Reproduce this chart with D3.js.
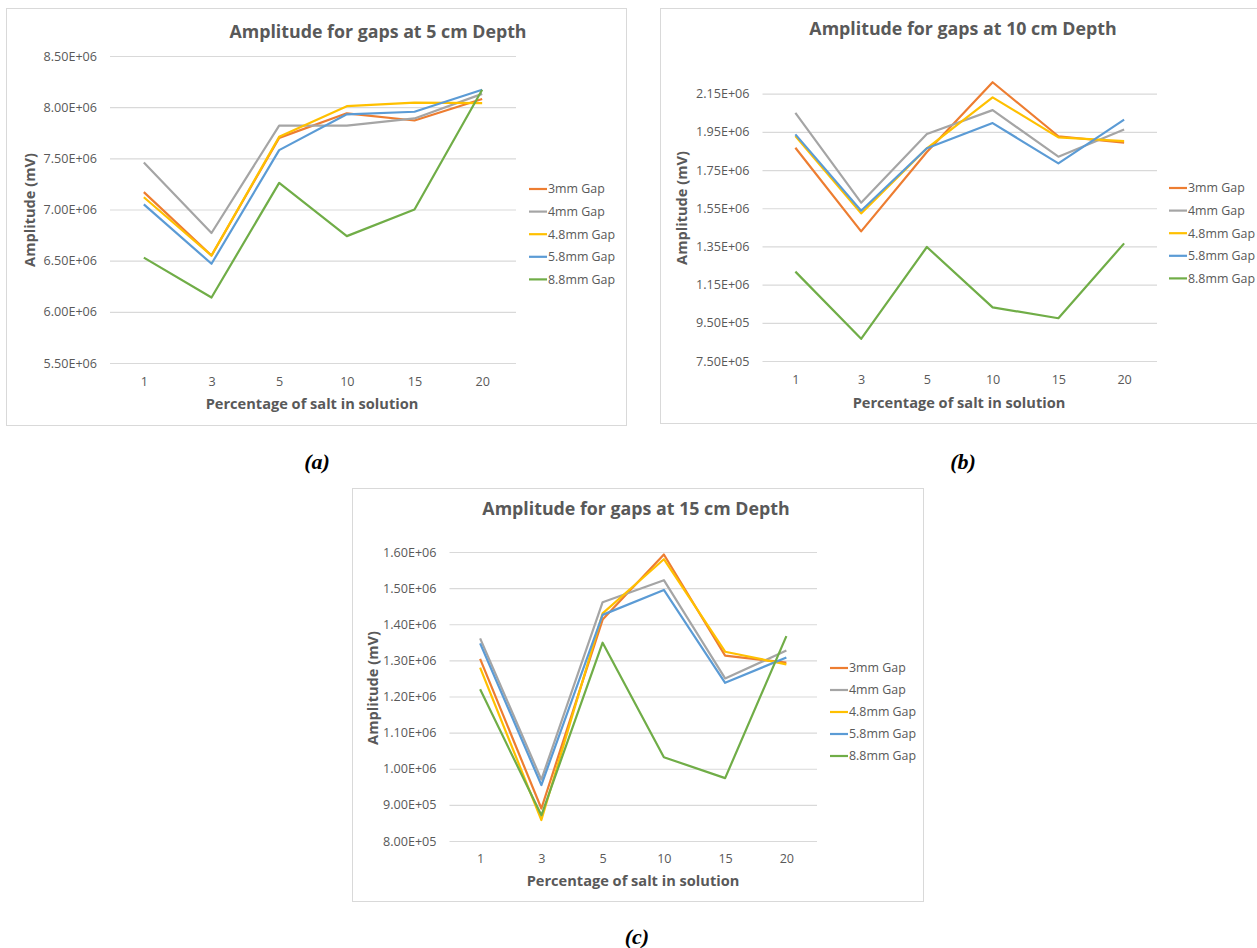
<!DOCTYPE html>
<html>
<head>
<meta charset="utf-8">
<script src="https://cdn.jsdelivr.net/npm/d3@7"></script>
<style>
  body { margin: 0; background: #fff; }
  svg { display: block; }
</style>
</head>
<body>
<script>
// categories and series
const categories = ["1", "3", "5", "10", "15", "20"];
const seriesNames = ["3mm Gap", "4mm Gap", "4.8mm Gap", "5.8mm Gap", "8.8mm Gap"];
const seriesColors = ["#ED7D31", "#A5A5A5", "#FFC000", "#5B9BD5", "#70AD47"];

// values, one row per gap
const depth5 = [
  [7.17e6, 6.55e6, 7.70e6, 7.94e6, 7.87e6, 8.08e6],
  [7.46e6, 6.77e6, 7.82e6, 7.82e6, 7.89e6, 8.13e6],
  [7.12e6, 6.55e6, 7.71e6, 8.01e6, 8.045e6, 8.04e6],
  [7.05e6, 6.47e6, 7.58e6, 7.93e6, 7.955e6, 8.17e6],
  [6.53e6, 6.14e6, 7.26e6, 6.74e6, 7.00e6, 8.17e6]
];
const depth10 = [
  [1.867e6, 1.429e6, 1.845e6, 2.21e6, 1.927e6, 1.893e6],
  [2.05e6, 1.579e6, 1.939e6, 2.064e6, 1.82e6, 1.963e6],
  [1.928e6, 1.523e6, 1.864e6, 2.131e6, 1.921e6, 1.902e6],
  [1.937e6, 1.537e6, 1.864e6, 1.996e6, 1.785e6, 2.014e6],
  [1.218e6, 0.866e6, 1.347e6, 1.031e6, 0.974e6, 1.366e6]
];
const depth15 = [
  [1.304e6, 0.890e6, 1.413e6, 1.593e6, 1.313e6, 1.294e6],
  [1.361e6, 0.970e6, 1.461e6, 1.522e6, 1.250e6, 1.327e6],
  [1.280e6, 0.858e6, 1.430e6, 1.580e6, 1.324e6, 1.289e6],
  [1.347e6, 0.955e6, 1.426e6, 1.495e6, 1.238e6, 1.308e6],
  [1.220e6, 0.871e6, 1.349e6, 1.032e6, 0.974e6, 1.367e6]
];

// y tick values
const ticks5 = [5.5e6, 6.0e6, 6.5e6, 7.0e6, 7.5e6, 8.0e6, 8.5e6];
const ticks10 = [7.5e5, 9.5e5, 1.15e6, 1.35e6, 1.55e6, 1.75e6, 1.95e6, 2.15e6];
const ticks15 = [8.0e5, 9.0e5, 1.0e6, 1.1e6, 1.2e6, 1.3e6, 1.4e6, 1.5e6, 1.6e6];

const xTitle = "Percentage of salt in solution";
const yTitle = "Amplitude (mV)";

// Excel style scientific label, e.g. 8.50E+06
function sci(v) {
  var e = Math.floor(Math.log10(v) + 1e-9);
  var m = v / Math.pow(10, e);
  return m.toFixed(2) + "E+" + (e < 10 ? "0" + e : e);
}

var font = "'Open Sans', 'Noto Sans', sans-serif";
var grey = "#595959";

var svg = d3.select("body").append("svg")
  .attr("width", 1257)
  .attr("height", 948);

var charts = [
  {title: "Amplitude for gaps at 5 cm Depth", values: depth5, ticks: ticks5, domain: [5.5e6, 8.5e6],
   frame: [6, 8, 620, 417], plot: {l: 110, r: 516, t: 56, b: 363},
   titleX: 378, titleY: 32, yTitleX: 30, yTitleY: 210, xTitleX: 312, xTitleY: 404, tickY: 382,
   legX: 529, legY: 189, legStep: 22.6, tag: "(a)", tagX: 317, tagY: 461},
  {title: "Amplitude for gaps at 10 cm Depth", values: depth10, ticks: ticks10, domain: [7.5e5, 2.25e6],
   frame: [660, 8, 640, 415], plot: {l: 762.5, r: 1157, t: 74.6, b: 361},
   titleX: 963, titleY: 29, yTitleX: 682, yTitleY: 208, xTitleX: 959, xTitleY: 403, tickY: 380,
   legX: 1169, legY: 188, legStep: 22.6, tag: "(b)", tagX: 963, tagY: 461},
  {title: "Amplitude for gaps at 15 cm Depth", values: depth15, ticks: ticks15, domain: [8.0e5, 1.6e6],
   frame: [352, 488, 571, 413], plot: {l: 449.5, r: 817, t: 552, b: 841},
   titleX: 636, titleY: 509, yTitleX: 373, yTitleY: 688, xTitleX: 633, xTitleY: 881, tickY: 859,
   legX: 830, legY: 668, legStep: 22, tag: "(c)", tagX: 637, tagY: 936}
];

charts.forEach(function(c) {
  var g = svg.append("g");

  // chart frame
  g.append("rect")
    .attr("x", c.frame[0] + 0.5).attr("y", c.frame[1] + 0.5)
    .attr("width", c.frame[2]).attr("height", c.frame[3])
    .attr("fill", "#fff").attr("stroke", "#d9d9d9");

  var x = d3.scalePoint()
    .domain(categories)
    .range([c.plot.l, c.plot.r])
    .padding(0.5);

  var y = d3.scaleLinear()
    .domain(c.domain)
    .range([c.plot.b, c.plot.t]);

  // gridlines + y labels
  var yAxis = g.append("g")
    .attr("transform", "translate(" + c.plot.l + ",0)")
    .call(d3.axisLeft(y).tickValues(c.ticks).tickFormat(sci)
      .tickSize(-(c.plot.r - c.plot.l)).tickPadding(13));
  yAxis.select(".domain").remove();
  yAxis.selectAll(".tick line").attr("stroke", "#d9d9d9").attr("stroke-width", 1.2);
  yAxis.selectAll(".tick text")
    .attr("fill", grey).style("font-family", font).style("font-size", "12.6px");

  // x labels
  var xAxis = g.append("g")
    .attr("transform", "translate(0," + c.tickY + ")")
    .call(d3.axisBottom(x).tickSize(0).tickPadding(0));
  xAxis.select(".domain").remove();
  xAxis.selectAll(".tick text")
    .attr("dy", "0.35em")
    .attr("fill", grey).style("font-family", font).style("font-size", "12.6px");

  // lines
  var line = d3.line()
    .x(function(d, i) { return x(categories[i]); })
    .y(function(d) { return y(d); });

  c.values.forEach(function(row, i) {
    g.append("path")
      .datum(row)
      .attr("d", line)
      .attr("fill", "none")
      .attr("stroke", seriesColors[i])
      .attr("stroke-width", 2.2)
      .attr("stroke-linejoin", "round");
  });

  // titles
  g.append("text")
    .attr("x", c.titleX).attr("y", c.titleY)
    .attr("text-anchor", "middle").attr("dy", "0.35em")
    .attr("fill", grey)
    .style("font", "bold 17.8px " + font)
    .text(c.title);

  g.append("text")
    .attr("transform", "translate(" + c.xTitleX + "," + c.xTitleY + ")")
    .attr("text-anchor", "middle").attr("dy", "0.35em")
    .attr("fill", grey)
    .style("font", "bold 14.6px " + font)
    .text(xTitle);

  g.append("text")
    .attr("transform", "translate(" + c.yTitleX + "," + c.yTitleY + ") rotate(-90)")
    .attr("text-anchor", "middle").attr("dy", "0.35em")
    .attr("fill", grey)
    .style("font", "bold 14.6px " + font)
    .text(yTitle);

  // legend
  var legend = g.selectAll(".legend")
    .data(seriesNames)
    .enter().append("g")
    .attr("transform", function(d, i) { return "translate(" + c.legX + "," + (c.legY + i * c.legStep) + ")"; });

  legend.append("line")
    .attr("x1", 0).attr("x2", 18)
    .attr("stroke", function(d, i) { return seriesColors[i]; })
    .attr("stroke-width", 2.2);

  legend.append("text")
    .attr("x", 19).attr("dy", "0.35em")
    .attr("fill", grey)
    .style("font", "12.4px " + font)
    .text(function(d) { return d; });

  // panel tag
  svg.append("text")
    .attr("x", c.tagX).attr("y", c.tagY)
    .attr("text-anchor", "middle").attr("dy", "0.35em")
    .style("font", "italic bold 22px 'Liberation Serif', 'DejaVu Serif', serif")
    .attr("fill", "#000")
    .text(c.tag);
});
</script>
</body>
</html>
